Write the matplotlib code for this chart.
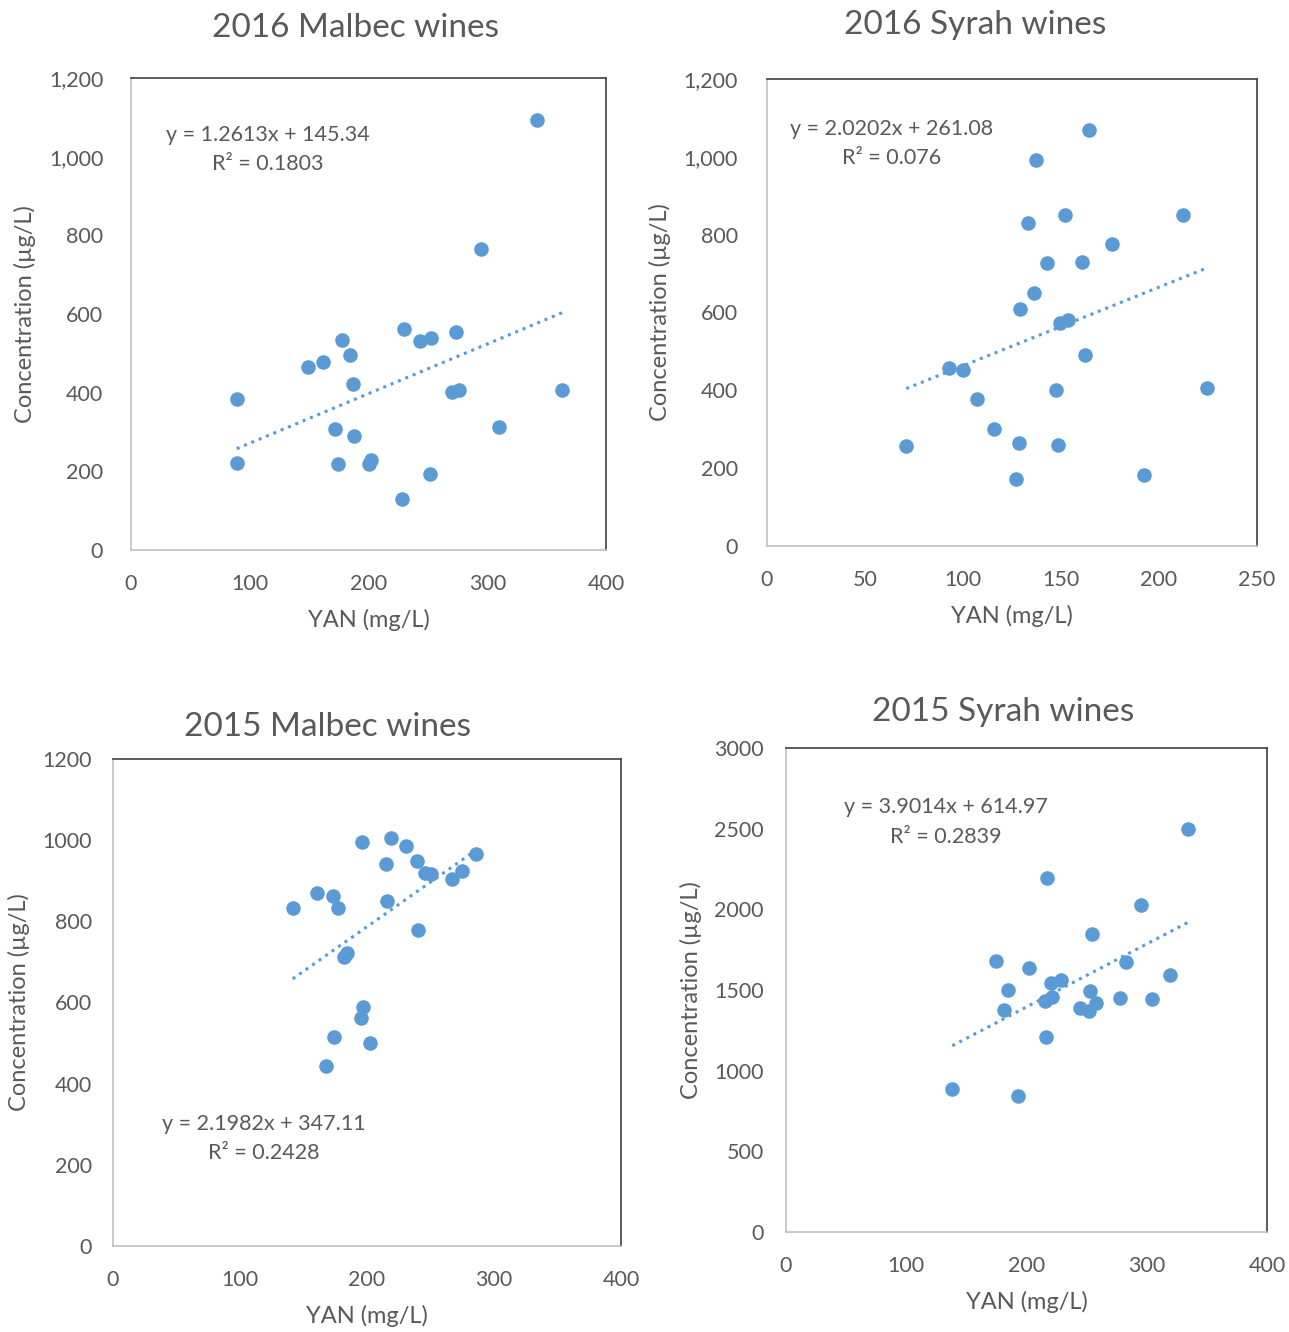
import numpy as np
import matplotlib
matplotlib.use("Agg")
import matplotlib.pyplot as plt
from matplotlib.ticker import FuncFormatter, MultipleLocator

plt.rcParams['font.family'] = ['Lato', 'DejaVu Sans']

# 2016 Malbec
m16_yan = [342, 295, 230, 243, 253, 274, 178, 184, 162, 149, 187, 89, 270, 276, 363,
           310, 172, 188, 89, 174, 200, 202, 252, 228]
m16_conc = [1092, 765, 561, 531, 538, 554, 535, 495, 479, 466, 421, 385, 401, 407, 408,
            313, 307, 291, 222, 219, 218, 228, 192, 130]

# 2016 Syrah
s16_yan = [164.5, 137, 152, 212, 133, 176, 143, 160.6, 136, 129, 149.7, 153.4, 162.4, 93,
           100, 147.5, 224.4, 107, 116, 71, 128.4, 148.7, 127, 192.5]
s16_conc = [1070, 991, 850, 850, 830, 777, 728, 731, 649, 610, 574, 580, 491, 458,
            451, 402, 405, 378, 300, 257, 264, 260, 171, 182]

# 2015 Malbec
m15_yan = [196, 219, 231, 286, 215, 239, 246, 250, 267, 275, 161, 173, 177, 141.5, 216,
           240, 184, 182, 197, 195, 174, 202, 167.5]
m15_conc = [995, 1005, 985, 967, 941, 948, 919, 916, 905, 924, 869, 862, 834, 834, 851,
            778, 722, 713, 589, 563, 516, 500, 443]

# 2015 Syrah
s15_yan = [334, 217, 295, 254.5, 174.6, 202, 283, 319.6, 220, 229, 184.5, 253, 221, 215,
           258, 278, 304.7, 244.5, 252, 181, 216, 138.3, 192.7]
s15_conc = [2496, 2194, 2029, 1845, 1680, 1638, 1672, 1593, 1543, 1564, 1498, 1494, 1457,
            1432, 1417, 1449, 1442, 1386, 1370, 1378, 1211, 885, 845]

titles = ["2016 Malbec wines", "2016 Syrah wines", "2015 Malbec wines", "2015 Syrah wines"]
slopes = [1.2613, 2.0202, 2.1982, 3.9014]
intercepts = [145.34, 261.08, 347.11, 614.97]
eq_text = ["y = 1.2613x + 145.34", "y = 2.0202x + 261.08", "y = 2.1982x + 347.11", "y = 3.9014x + 614.97"]
r2_text = ["R² = 0.1803", "R² = 0.076", "R² = 0.2428", "R² = 0.2839"]

W, H = 1289, 1332
fig = plt.figure(figsize=(W / 100, H / 100), dpi=100)

# pixel boxes: left, right, top, bottom
boxes = [(131, 606, 78, 550), (767, 1257, 79, 546), (113, 621, 759, 1246), (786, 1267, 748, 1232)]
xlims = [400, 250, 400, 400]
xsteps = [100, 50, 100, 100]
ylims = [1200, 1200, 1200, 3000]
ysteps = [200, 200, 200, 500]
comma = [True, True, False, False]
eq_pos = [(0.288, 0.879, 0.818), (0.255, 0.893, 0.831), (0.297, 0.250, 0.191), (0.333, 0.878, 0.816)]
title_y = [28, 25, 727, 712]
title_x = [355, 975, 328, 1003]
ypad = [20, 21, 15, 16]

data = [(m16_yan, m16_conc), (s16_yan, s16_conc), (m15_yan, m15_conc), (s15_yan, s15_conc)]
blue = '#5B9BD5'
grey = '#595959'

for i, (xs, ys) in enumerate(data):
    l, r, t, b = boxes[i]
    ax = fig.add_axes([l / W, 1 - b / H, (r - l) / W, (b - t) / H])
    ax.scatter(xs, ys, s=110, color=blue, zorder=3, linewidths=0)
    xx = np.array([min(xs), max(xs)])
    ax.plot(xx, slopes[i] * xx + intercepts[i], linestyle=(0, (1, 1.6)), color=blue, lw=2.2)
    ax.set_xlim(0, xlims[i])
    ax.set_ylim(0, ylims[i])
    ax.xaxis.set_major_locator(MultipleLocator(xsteps[i]))
    ax.yaxis.set_major_locator(MultipleLocator(ysteps[i]))
    if comma[i]:
        ax.yaxis.set_major_formatter(FuncFormatter(lambda v, p: f"{int(v):,}"))
    ax.tick_params(length=0, labelsize=15.5, labelcolor=grey)
    ax.tick_params(axis='x', pad=17)
    ax.tick_params(axis='y', pad=ypad[i])
    for s in ['top', 'right']:
        ax.spines[s].set_color('#404040')
        ax.spines[s].set_linewidth(1.2)
    for s in ['left', 'bottom']:
        ax.spines[s].set_color('#c0c0c0')
        ax.spines[s].set_linewidth(1.2)
    ax.set_xlabel("YAN (mg/L)", fontsize=17, color=grey, labelpad=11)
    ax.set_ylabel("Concentration (µg/L)", fontsize=17, color=grey, labelpad=9)
    ex, ey1, ey2 = eq_pos[i]
    ax.text(ex, ey1, eq_text[i], transform=ax.transAxes, ha='center', va='center', fontsize=15.5, color=grey)
    ax.text(ex, ey2, r2_text[i], transform=ax.transAxes, ha='center', va='center', fontsize=15.5, color=grey)
    fig.text(title_x[i] / W, 1 - title_y[i] / H, titles[i], ha='center', va='center', fontsize=24, color=grey)

fig.savefig("out.png", dpi=100, facecolor='white')
